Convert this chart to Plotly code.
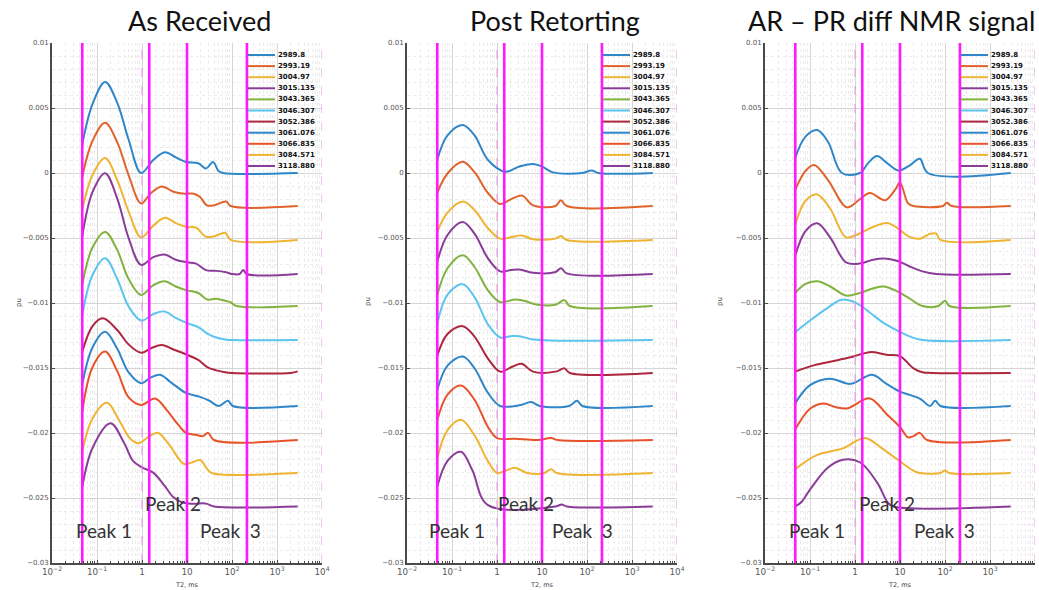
import plotly.graph_objects as go

# ---------------------------------------------------------------- data
panel_titles = ["As Received", "Post Retorting", "AR – PR diff NMR signal"]

sample_depths = ["2989.8", "2993.19", "3004.97", "3015.135", "3043.365", "3046.307",
                 "3052.386", "3061.076", "3066.835", "3084.571", "3118.880"]

line_colors = ["#2f86c8", "#e0632c", "#eeb432", "#8a3d98", "#82b23f", "#5cc4ef",
               "#ad2740", "#2f86c8", "#e8532a", "#eeb432", "#8a3d98"]

# vertical stacking offset of each sample curve (pu)
offsets = [0.0, -0.00254, -0.00515, -0.00777, -0.01023, -0.01285,
           -0.01538, -0.01792, -0.02054, -0.02308, -0.02565]

# T2 cut-offs between the peaks (ms) and reference lines (ms)
peak_cutoffs = [0.047, 1.45, 10.0, 215.0]
reference_lines = [1.0, 10000.0]

# T2 positions as log10(ms) and signal amplitude above baseline (x1e-3 pu)
ar_log_t2 = [
    [-1.33, -1.1, -0.82, -0.55, -0.3, -0.02, 0.25, 0.51, 0.75, 0.98, 1.25, 1.42, 1.58, 1.7, 1.8, 3.46],
    [-1.33, -1.1, -0.82, -0.55, -0.3, -0.02, 0.2, 0.44, 0.7, 0.95, 1.15, 1.29, 1.44, 1.6, 1.87, 1.97, 3.46],
    [-1.33, -1.1, -0.82, -0.55, -0.3, -0.02, 0.25, 0.51, 0.75, 1.0, 1.2, 1.42, 1.62, 1.85, 1.97, 3.46],
    [-1.33, -1.1, -0.82, -0.55, -0.3, -0.02, 0.25, 0.5, 0.75, 1.0, 1.2, 1.42, 1.62, 1.85, 2.0, 2.17, 2.25, 2.33, 3.46],
    [-1.33, -1.1, -0.82, -0.55, -0.3, -0.02, 0.25, 0.5, 0.75, 1.0, 1.25, 1.45, 1.65, 1.85, 1.96, 2.1, 3.46],
    [-1.33, -1.1, -0.82, -0.55, -0.3, -0.02, 0.25, 0.5, 0.75, 1.0, 1.25, 1.45, 1.65, 1.85, 2.0, 3.46],
    [-1.33, -1.1, -0.87, -0.55, -0.3, -0.02, 0.2, 0.44, 0.7, 1.0, 1.25, 1.45, 1.65, 1.85, 2.0, 3.3, 3.46],
    [-1.33, -1.1, -0.82, -0.55, -0.3, -0.02, 0.2, 0.4, 0.65, 0.98, 1.29, 1.5, 1.7, 1.91, 2.02, 3.46],
    [-1.33, -1.1, -0.82, -0.55, -0.3, -0.02, 0.29, 0.55, 0.8, 0.98, 1.2, 1.35, 1.47, 1.6, 3.46],
    [-1.33, -1.1, -0.78, -0.5, -0.25, -0.07, 0.15, 0.35, 0.6, 0.93, 1.1, 1.29, 1.45, 1.55, 3.46],
    [-1.33, -1.1, -0.7, -0.4, -0.2, 0.0, 0.25, 0.5, 0.7, 0.9, 1.2, 1.35, 1.45, 1.6, 3.46],
]
ar_amp = [
    [2.15, 5.3, 7.0, 5.4, 2.6, 0.0, 1.0, 1.6, 1.2, 0.85, 0.75, 0.35, 0.85, 0.15, 0.0, 0.0],
    [2.2, 5.0, 6.4, 4.9, 2.4, 0.2, 1.0, 1.5, 1.1, 0.95, 0.95, 0.7, 0.05, 0.05, 0.35, 0.0, 0.0],
    [2.3, 5.0, 6.3, 4.6, 2.2, 0.2, 1.1, 1.7, 1.3, 1.0, 0.95, 0.25, 0.3, 0.55, 0.0, 0.0],
    [2.85, 6.3, 7.75, 5.8, 2.8, 0.7, 1.3, 1.5, 1.1, 0.9, 0.8, 0.3, 0.25, 0.15, 0.0, 0.0, 0.3, 0.0, 0.0],
    [1.6, 4.5, 5.7, 4.3, 2.1, 0.85, 1.6, 1.9, 1.5, 1.2, 1.0, 0.5, 0.55, 0.4, 0.3, 0.0, 0.0],
    [1.85, 5.0, 6.3, 4.7, 2.6, 1.5, 2.0, 2.2, 1.7, 1.3, 1.0, 0.5, 0.2, 0.05, 0.0, 0.0],
    [1.6, 3.6, 4.2, 3.3, 2.2, 1.55, 1.9, 2.15, 1.8, 1.4, 1.0, 0.45, 0.2, 0.05, 0.0, 0.0, 0.12],
    [1.6, 4.5, 5.7, 4.4, 2.6, 1.75, 2.2, 2.4, 1.8, 1.0, 0.7, 0.4, 0.0, 0.4, 0.0, 0.0],
    [2.15, 5.6, 6.8, 5.3, 3.3, 2.7, 3.2, 2.3, 1.2, 0.55, 0.4, 0.3, 0.55, 0.0, 0.0],
    [1.6, 4.2, 5.4, 4.0, 2.6, 2.3, 2.8, 3.1, 2.2, 0.7, 0.8, 1.0, 0.3, 0.0, 0.0],
    [1.45, 4.5, 6.4, 4.9, 3.5, 3.0, 2.6, 1.6, 0.7, 0.3, 0.2, 0.25, 0.2, 0.0, 0.0],
]

pr_log_t2 = [
    [-1.33, -1.1, -0.76, -0.5, -0.2, 0.18, 0.5, 0.8, 1.0, 1.24, 1.9, 2.1, 2.25, 3.46],
    [-1.33, -1.1, -0.76, -0.5, -0.2, 0.07, 0.3, 0.56, 0.8, 1.3, 1.42, 1.55, 3.46],
    [-1.33, -1.1, -0.76, -0.5, -0.2, 0.07, 0.3, 0.55, 0.8, 1.3, 1.42, 1.55, 3.46],
    [-1.33, -1.1, -0.76, -0.5, -0.2, 0.07, 0.3, 0.5, 0.8, 1.3, 1.42, 1.55, 3.46],
    [-1.33, -1.1, -0.76, -0.5, -0.2, 0.07, 0.4, 0.6, 0.9, 1.3, 1.5, 1.62, 3.46],
    [-1.33, -1.1, -0.76, -0.5, -0.2, 0.07, 0.3, 0.5, 0.8, 3.46],
    [-1.33, -1.1, -0.76, -0.5, -0.2, 0.07, 0.35, 0.55, 0.8, 1.3, 1.5, 1.62, 3.46],
    [-1.33, -1.1, -0.76, -0.5, -0.2, 0.07, 0.5, 0.76, 0.95, 1.6, 1.78, 1.9, 3.46],
    [-1.33, -1.1, -0.8, -0.5, -0.2, 0.0, 0.4, 0.9, 1.2, 1.35, 3.46],
    [-1.33, -1.1, -0.8, -0.5, -0.2, 0.0, 0.2, 0.4, 0.68, 1.05, 1.2, 1.33, 3.46],
    [-1.33, -1.1, -0.8, -0.55, -0.2, 1.3, 1.44, 1.55, 3.46],
]
pr_amp = [
    [1.0, 2.9, 3.7, 2.9, 1.0, 0.1, 0.5, 0.7, 0.5, 0.05, 0.0, 0.2, 0.0, 0.0],
    [1.0, 2.5, 3.4, 2.6, 1.0, 0.15, 0.5, 0.8, 0.05, 0.0, 0.45, 0.0, 0.0],
    [0.6, 2.1, 2.95, 2.3, 0.9, 0.1, 0.2, 0.35, 0.05, 0.1, 0.3, 0.0, 0.0],
    [0.9, 3.0, 4.0, 3.1, 1.2, 0.2, 0.3, 0.35, 0.1, 0.15, 0.45, 0.05, 0.0],
    [0.8, 2.9, 3.9, 3.0, 1.2, 0.3, 0.5, 0.4, 0.1, 0.1, 0.45, 0.0, 0.0],
    [1.2, 3.5, 4.3, 3.3, 1.2, 0.2, 0.3, 0.3, 0.05, 0.0],
    [1.3, 3.0, 3.6, 2.8, 1.1, 0.1, 0.5, 0.7, 0.1, 0.1, 0.35, 0.0, 0.0],
    [1.2, 3.1, 3.8, 2.9, 1.0, 0.0, 0.05, 0.3, 0.0, 0.0, 0.4, 0.0, 0.0],
    [1.5, 3.5, 4.2, 3.1, 1.0, 0.15, 0.1, 0.0, 0.15, 0.0, 0.0],
    [1.1, 3.3, 4.1, 2.9, 0.9, 0.0, 0.2, 0.4, 0.0, 0.0, 0.3, 0.0, 0.0],
    [1.5, 3.5, 4.2, 2.8, 0.1, 0.0, 0.15, 0.0, 0.0],
]

diff_log_t2 = [
    [-1.33, -1.1, -0.84, -0.6, -0.29, 0.11, 0.3, 0.49, 0.7, 0.96, 1.2, 1.44, 1.62, 3.46],
    [-1.33, -1.1, -0.91, -0.6, -0.18, 0.1, 0.33, 0.67, 0.9, 1.0, 1.18, 1.3, 1.95, 2.04, 2.15, 3.46],
    [-1.33, -1.1, -0.84, -0.55, -0.2, 0.1, 0.4, 0.71, 0.95, 1.2, 1.45, 1.65, 1.8, 1.9, 3.46],
    [-1.33, -1.1, -0.84, -0.55, -0.2, 0.1, 0.4, 0.65, 0.95, 1.2, 1.5, 1.8, 3.46],
    [-1.33, -1.1, -0.84, -0.55, -0.2, 0.1, 0.4, 0.65, 0.95, 1.2, 1.5, 1.85, 2.0, 2.1, 3.46],
    [-1.33, -1.0, -0.6, -0.3, 0.0, 0.3, 0.6, 0.9, 1.2, 1.5, 3.46],
    [-1.33, -0.9, -0.5, -0.1, 0.33, 0.7, 1.0, 1.3, 1.5, 1.7, 3.46],
    [-1.33, -1.0, -0.55, -0.1, 0.38, 0.7, 1.0, 1.22, 1.45, 1.67, 1.78, 1.9, 3.46],
    [-1.33, -1.0, -0.71, -0.4, -0.16, 0.33, 0.7, 1.0, 1.18, 1.3, 1.44, 1.6, 3.46],
    [-1.33, -0.84, -0.27, 0.22, 0.6, 0.96, 1.29, 1.44, 1.9, 2.0, 2.1, 3.46],
    [-1.33, -1.2, -1.0, -0.6, -0.27, 0.11, 0.49, 0.73, 0.85, 3.46],
]
diff_amp = [
    [1.15, 2.8, 3.3, 2.4, 0.0, 0.0, 0.8, 1.3, 0.8, 0.2, 0.55, 1.1, 0.0, 0.0],
    [1.23, 2.7, 3.15, 2.0, -0.1, 0.5, 1.0, 0.45, 1.3, 1.8, 0.2, 0.0, 0.0, 0.25, 0.0, 0.0],
    [1.15, 3.0, 3.5, 2.4, 0.2, 0.5, 1.0, 1.3, 0.9, 0.25, 0.1, 0.45, 0.5, 0.0, 0.0],
    [1.4, 3.3, 3.9, 2.8, 0.9, 0.8, 1.1, 1.2, 1.0, 0.6, 0.2, 0.0, 0.0],
    [1.0, 1.7, 1.9, 1.5, 0.8, 1.0, 1.35, 1.5, 1.1, 0.6, 0.0, 0.0, 0.4, 0.0, 0.0],
    [0.6, 1.5, 2.5, 3.1, 2.9, 2.2, 1.4, 0.8, 0.3, 0.0, 0.0],
    [0.1, 0.6, 0.9, 1.2, 1.6, 1.4, 1.3, 0.35, 0.05, 0.0, 0.0],
    [0.2, 1.6, 2.1, 1.7, 2.4, 1.7, 1.1, 0.85, 0.55, 0.0, 0.4, 0.0, 0.0],
    [0.8, 2.4, 2.8, 2.5, 2.45, 3.2, 2.0, 1.0, 0.2, 0.3, 0.55, 0.0, 0.0],
    [0.3, 1.4, 1.9, 2.7, 1.9, 1.0, 0.2, 0.0, 0.0, 0.2, 0.0, 0.0],
    [0.0, 0.3, 1.3, 3.0, 3.6, 3.4, 1.85, 0.3, 0.0, 0.0],
]

panel_log_t2 = [ar_log_t2, pr_log_t2, diff_log_t2]
panel_amp = [ar_amp, pr_amp, diff_amp]
amp_unit = 1e-3

# ---------------------------------------------------------------- layout geometry
W, H = 1039, 590
x_domains = [(52 / W, 322 / W), (407 / W, 677 / W), (765 / W, 1035 / W)]
y_domain = (1 - 563 / H, 1 - 43 / H)
y_range = [-0.03, 0.01]

label_font = "Lato, 'Open Sans', sans-serif"
small_font = "DejaVu Sans, sans-serif"

fig = go.Figure()

for p in range(3):
    xa = "x" if p == 0 else f"x{p + 1}"
    ya = "y" if p == 0 else f"y{p + 1}"

    # sample curves
    for i in range(len(sample_depths)):
        t2 = [10 ** v for v in panel_log_t2[p][i]]
        sig = [offsets[i] + a * amp_unit for a in panel_amp[p][i]]
        fig.add_trace(go.Scatter(x=t2, y=sig, mode="lines", xaxis=xa, yaxis=ya,
                                 name=sample_depths[i],
                                 line=dict(color=line_colors[i], width=2, shape="spline",
                                           smoothing=1.0),
                                 showlegend=False))

    # reference lines and peak cut-off lines, drawn over the curves
    for v in reference_lines:
        fig.add_trace(go.Scatter(x=[v, v], y=y_range, mode="lines", xaxis=xa, yaxis=ya,
                                 line=dict(color="#e58ee8", width=1, dash="dash"),
                                 showlegend=False, hoverinfo="skip"))
    for v in peak_cutoffs:
        fig.add_trace(go.Scatter(x=[v, v], y=y_range, mode="lines", xaxis=xa, yaxis=ya,
                                 line=dict(color="#ff19ff", width=2.6),
                                 showlegend=False, hoverinfo="skip"))

axis_common = dict(showline=True, linecolor="#4a4a4a", linewidth=2, ticks="inside",
                   ticklen=3, tickcolor="#4a4a4a",
                   tickfont=dict(family=small_font, size=7, color="#555"),
                   showgrid=True, gridcolor="#d6d6d6", gridwidth=1, zeroline=False,
                   automargin=False)

for p in range(3):
    suffix = "" if p == 0 else str(p + 1)
    fig.layout["xaxis" + suffix] = dict(
        axis_common, type="log", range=[-2, 4], dtick=1, exponentformat="power",
        domain=list(x_domains[p]), anchor="y" + suffix,
        minor=dict(ticks="inside", ticklen=2, tickcolor="#4a4a4a", showgrid=True,
                   gridcolor="#ececec", griddash="dot"))
    fig.layout["yaxis" + suffix] = dict(
        axis_common, range=y_range, dtick=0.005, domain=list(y_domain),
        anchor="x" + suffix,
        minor=dict(dtick=0.001, showgrid=True, gridcolor="#ececec", griddash="dot"))

annotations = []
shapes = []
for p in range(3):
    x0, x1 = x_domains[p]
    xa = "x" if p == 0 else f"x{p + 1}"
    ya = "y" if p == 0 else f"y{p + 1}"
    # panel title
    annotations.append(dict(text=panel_titles[p], xref="paper", yref="paper",
                            x=[200, 555, 891][p] / W, y=1 - 21 / H, showarrow=False,
                            xanchor="center", yanchor="middle",
                            font=dict(family=label_font, size=27, color="#111")))
    # axis titles
    annotations.append(dict(text="T2, ms", xref="paper", yref="paper",
                            x=(x0 + x1) / 2, y=1 - 585 / H, showarrow=False,
                            xanchor="center", yanchor="middle",
                            font=dict(family=small_font, size=6.5, color="#444")))
    annotations.append(dict(text="pu", xref="paper", yref="paper",
                            x=x0 - 39 / W, y=1 - 302 / H, showarrow=False, textangle=-90,
                            font=dict(family=small_font, size=7, color="#444")))
    # peak region labels
    for txt, lx, ly in [("Peak 1", [-0.84, -0.89, -0.84][p], -0.0275),
                        ("Peak 2", [0.69, 0.64, 0.71][p], -0.0254),
                        ("Peak  3", [1.96, 1.89, 1.98][p], -0.0275)]:
        annotations.append(dict(text=txt, xref=xa, yref=ya, x=lx, y=ly, showarrow=False,
                                font=dict(family=label_font, size=19, color="#333")))
    # sample legend
    for i, name in enumerate(sample_depths):
        yy = 1 - (55 + 11.1 * i) / H
        shapes.append(dict(type="line", xref="paper", yref="paper",
                           x0=x1 - 74 / W, x1=x1 - 47 / W, y0=yy, y1=yy,
                           line=dict(color=line_colors[i], width=2)))
        annotations.append(dict(text="<b>" + name + "</b>", xref="paper", yref="paper",
                                x=x1 - 46 / W, y=yy, xanchor="left", yanchor="middle",
                                showarrow=False,
                                font=dict(family=small_font, size=7, color="#111")))

fig.update_layout(width=W, height=H, margin=dict(l=0, r=0, t=0, b=0),
                  paper_bgcolor="white", plot_bgcolor="white",
                  annotations=annotations, shapes=shapes, showlegend=False)

fig.write_html("out.html")
